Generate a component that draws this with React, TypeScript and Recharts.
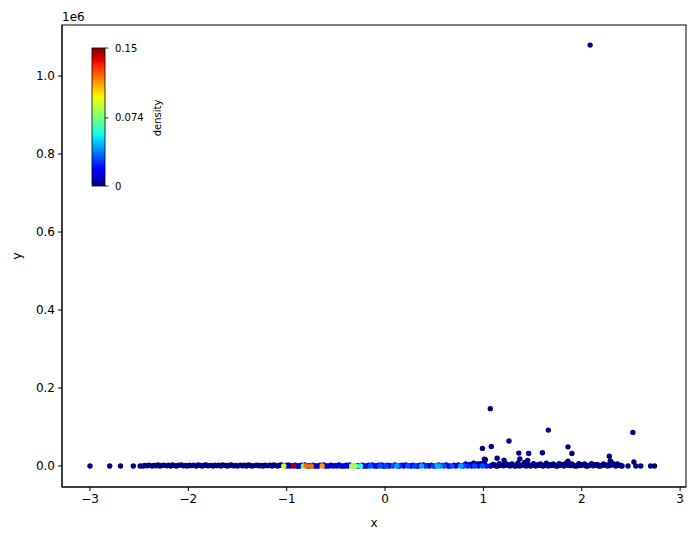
import { ScatterChart, Scatter, XAxis, YAxis } from "recharts";

const X_TICKS = [-3, -2, -1, 0, 1, 2, 3];
const Y_TICKS = [0, 200000, 400000, 600000, 800000, 1000000];
const CBAR_TICKS = [0, 0.074, 0.15];
const D_MAX = 0.15;

// [x, y, density]
const leftTail: number[][] = [
  [-3.0, 0, 0], [-2.8, 0, 0], [-2.69, 0, 0], [-2.56, 0, 0], [-2.49, 0, 0],
];

const leftStrip: number[][] = [
  [-2.46, 0, 0], [-2.44, 1200, 0], [-2.42, 300, 0], [-2.4, 2000, 0], [-2.37, 0, 0],
  [-2.35, 1500, 0], [-2.33, 600, 0], [-2.31, 2400, 0], [-2.29, 0, 0], [-2.27, 1000, 0],
  [-2.25, 2200, 0], [-2.22, 400, 0], [-2.2, 1800, 0], [-2.18, 0, 0], [-2.16, 2500, 0],
  [-2.14, 900, 0], [-2.12, 0, 0], [-2.1, 1600, 0], [-2.07, 2300, 0], [-2.05, 200, 0],
  [-2.03, 1300, 0], [-2.01, 0, 0], [-1.99, 2100, 0], [-1.97, 700, 0], [-1.95, 1900, 0],
  [-1.92, 0, 0], [-1.9, 2500, 0], [-1.88, 1100, 0], [-1.86, 0, 0], [-1.84, 1700, 0],
  [-1.82, 2400, 0], [-1.8, 500, 0], [-1.77, 1400, 0], [-1.75, 0, 0], [-1.73, 2200, 0],
  [-1.71, 800, 0], [-1.69, 1900, 0], [-1.67, 0, 0], [-1.65, 2500, 0], [-1.62, 1000, 0],
  [-1.6, 0, 0], [-1.58, 1600, 0], [-1.56, 2300, 0], [-1.54, 300, 0], [-1.52, 1200, 0],
  [-1.5, 0, 0], [-1.47, 2000, 0], [-1.45, 600, 0], [-1.43, 1800, 0], [-1.41, 0, 0],
  [-1.39, 2400, 0], [-1.37, 1100, 0], [-1.35, 0, 0], [-1.32, 1500, 0], [-1.3, 2200, 0],
  [-1.28, 400, 0], [-1.26, 1300, 0], [-1.24, 0, 0], [-1.22, 2100, 0], [-1.2, 700, 0],
  [-1.17, 1900, 0], [-1.15, 0, 0], [-1.13, 2500, 0], [-1.11, 900, 0], [-1.09, 0, 0],
  [-1.07, 1700, 0], [-1.05, 2300, 0.002],
];

const midFill: number[][] = [
  [-1.015, 1500, 0.006], [-0.985, 2400, 0.004], [-0.95, 500, 0.008], [-0.915, 2000, 0.006],
  [-0.885, 0, 0.004], [-0.85, 1800, 0.008], [-0.815, 2400, 0.006], [-0.765, 800, 0.005],
  [-0.735, 2200, 0.008], [-0.7, 0, 0.006], [-0.66, 1600, 0.01], [-0.625, 2500, 0.006],
  [-0.59, 0, 0.008], [-0.55, 2000, 0.01], [-0.51, 900, 0.006], [-0.47, 2300, 0.012],
  [-0.43, 0, 0.008], [-0.395, 1700, 0.01], [-0.36, 2400, 0.014], [-0.285, 600, 0.012],
  [-0.235, 2100, 0.01], [-0.2, 0, 0.014], [-0.165, 1900, 0.012], [-0.13, 2500, 0.016],
  [-0.095, 300, 0.012], [-0.065, 1800, 0.014], [-0.035, 2300, 0.012], [-0.005, 0, 0.016],
  [0.025, 2000, 0.014], [0.06, 800, 0.012], [0.1, 2400, 0.016], [0.135, 0, 0.014],
  [0.17, 1700, 0.012], [0.21, 2500, 0.014], [0.25, 500, 0.012], [0.285, 2200, 0.014],
  [0.32, 0, 0.012], [0.355, 1900, 0.016], [0.39, 2400, 0.012], [0.43, 700, 0.01],
  [0.47, 2100, 0.012], [0.51, 0, 0.014], [0.545, 2300, 0.012], [0.58, 1000, 0.014],
  [0.62, 2500, 0.01], [0.66, 0, 0.012], [0.7, 1800, 0.01], [0.745, 2400, 0.012],
  [0.785, 600, 0.01],
];

const midStrip: number[][] = [
  [-1.03, 0, 0.088], [-1.0, 0, 0.005], [-0.97, 0, 0.01], [-0.93, 0, 0.145],
  [-0.9, 0, 0.01], [-0.87, 0, 0.004], [-0.83, 0, 0.07], [-0.8, 0, 0.12],
  [-0.78, 0, 0.006], [-0.75, 0, 0.12], [-0.72, 0, 0.01], [-0.68, 0, 0.005],
  [-0.64, 0, 0.112], [-0.61, 0, 0.006], [-0.57, 0, 0.008], [-0.53, 0, 0.012],
  [-0.49, 0, 0.006], [-0.45, 0, 0.01], [-0.41, 0, 0.014], [-0.38, 0, 0.008],
  [-0.34, 0, 0.08], [-0.32, 0, 0.082], [-0.3, 0, 0.076], [-0.27, 0, 0.01],
  [-0.25, 0, 0.06], [-0.22, 0, 0.012], [-0.18, 0, 0.02], [-0.15, 0, 0.03],
  [-0.11, 0, 0.015], [-0.08, 0, 0.02], [-0.05, 0, 0.03], [-0.02, 0, 0.012],
  [0.01, 0, 0.028], [0.04, 0, 0.01], [0.08, 0, 0.03], [0.12, 0, 0.042],
  [0.15, 0, 0.025], [0.19, 0, 0.012], [0.23, 0, 0.03], [0.27, 0, 0.015],
  [0.3, 0, 0.028], [0.34, 0, 0.012], [0.37, 0, 0.043], [0.41, 0, 0.025],
  [0.45, 0, 0.01], [0.49, 0, 0.028], [0.53, 0, 0.045], [0.56, 0, 0.04],
  [0.6, 0, 0.03], [0.64, 0, 0.012], [0.68, 0, 0.03], [0.72, 0, 0.015],
  [0.77, 0, 0.042], [0.8, 0, 0.028], [0.82, 5000, 0.004], [0.84, 0, 0.025],
  [0.86, 4000, 0.004], [0.88, 0, 0.01], [0.9, 7000, 0.003], [0.91, 0, 0.028],
  [0.94, 5000, 0.003], [0.95, 0, 0.01], [0.97, 6000, 0.003], [0.99, 0, 0.03],
  [1.01, 8000, 0.002], [1.03, 0, 0.022], [1.07, 0, 0.008],
];

const rightStrip: number[][] = [
  [1.1, 4000, 0], [1.13, 0, 0], [1.16, 6000, 0], [1.19, 2000, 0], [1.22, 8000, 0],
  [1.25, 3000, 0], [1.29, 5000, 0], [1.32, 0, 0], [1.35, 7000, 0], [1.39, 2000, 0],
  [1.42, 9000, 0], [1.45, 4000, 0], [1.48, 0, 0], [1.51, 6000, 0], [1.55, 3000, 0],
  [1.58, 5000, 0], [1.61, 0, 0], [1.64, 7000, 0], [1.68, 3000, 0], [1.71, 5000, 0],
  [1.74, 0, 0], [1.77, 6000, 0], [1.8, 4000, 0], [1.84, 7000, 0], [1.87, 2000, 0],
  [1.9, 5000, 0], [1.93, 0, 0], [1.97, 6000, 0], [2.0, 3000, 0], [2.03, 5000, 0],
  [2.06, 0, 0], [2.1, 6000, 0], [2.13, 3000, 0], [2.16, 4000, 0], [2.19, 0, 0],
  [2.22, 5000, 0], [2.25, 2000, 0], [2.28, 4000, 0], [2.31, 8000, 0], [2.33, 3000, 0],
  [2.36, 5000, 0], [2.39, 2000, 0], [2.41, 0, 0],
];

const rightFill: number[][] = [
  [1.085, 1000, 0], [1.115, 2000, 0], [1.145, 0, 0], [1.175, 1500, 0], [1.205, 500, 0],
  [1.235, 2000, 0], [1.27, 0, 0], [1.305, 1800, 0], [1.335, 600, 0], [1.37, 0, 0],
  [1.405, 2200, 0], [1.435, 0, 0], [1.465, 1400, 0], [1.495, 2500, 0], [1.53, 0, 0],
  [1.565, 1700, 0], [1.595, 800, 0], [1.625, 2300, 0], [1.66, 0, 0], [1.695, 1200, 0],
  [1.725, 2000, 0], [1.755, 0, 0], [1.785, 1600, 0], [1.82, 0, 0], [1.855, 2400, 0],
  [1.885, 700, 0], [1.915, 1900, 0], [1.95, 0, 0], [1.985, 1300, 0], [2.015, 2200, 0],
  [2.045, 0, 0], [2.08, 1700, 0], [2.115, 500, 0], [2.145, 2100, 0], [2.175, 0, 0],
  [2.205, 1500, 0], [2.235, 2400, 0], [2.265, 0, 0], [2.295, 1800, 0], [2.345, 0, 0],
  [2.375, 1400, 0], [2.4, 600, 0],
];

const rightTail: number[][] = [
  [2.47, 0, 0], [2.53, 10000, 0], [2.55, 0, 0], [2.6, 0, 0], [2.7, 0, 0], [2.74, 0, 0],
];

const outliers: number[][] = [
  [2.085, 1079500, 0], [1.07, 147000, 0], [0.99, 45000, 0], [1.08, 50000, 0],
  [1.26, 64000, 0], [1.66, 92000, 0], [2.52, 86000, 0], [1.36, 33000, 0],
  [1.46, 32000, 0], [1.6, 34000, 0], [1.86, 49000, 0], [1.9, 32000, 0],
  [2.28, 25000, 0], [1.01, 17000, 0], [1.02, 16000, 0], [1.14, 20000, 0],
  [1.21, 15000, 0], [1.37, 18000, 0], [1.45, 14000, 0], [1.86, 12000, 0],
  [2.29, 13000, 0],
];

const points = [
  ...leftTail, ...leftStrip, ...midFill, ...midStrip,
  ...rightStrip, ...rightFill, ...rightTail, ...outliers,
]
  .map(([x, y, d]) => ({ x, y, d }))
  .sort((a, b) => a.d - b.d);

// matplotlib jet
const JET = {
  r: [[0, 0], [0.35, 0], [0.66, 1], [0.89, 1], [1, 0.5]],
  g: [[0, 0], [0.125, 0], [0.375, 1], [0.64, 1], [0.91, 0], [1, 0]],
  b: [[0, 0.5], [0.11, 1], [0.34, 1], [0.65, 0], [1, 0]],
};
function seg(pts: number[][], t: number) {
  for (let i = 1; i < pts.length; i++) {
    if (t <= pts[i][0]) {
      const [x0, y0] = pts[i - 1];
      const [x1, y1] = pts[i];
      return y0 + ((t - x0) / (x1 - x0)) * (y1 - y0);
    }
  }
  return pts[pts.length - 1][1];
}
function jet(t: number) {
  const c = Math.max(0, Math.min(1, t));
  const r = Math.round(seg(JET.r, c) * 255);
  const g = Math.round(seg(JET.g, c) * 255);
  const b = Math.round(seg(JET.b, c) * 255);
  return `rgb(${r},${g},${b})`;
}

const FONT = "DejaVu Sans, sans-serif";
const GRAD_STOPS = [0, 0.11, 0.125, 0.2, 0.34, 0.35, 0.375, 0.5, 0.64, 0.65, 0.66, 0.75, 0.89, 0.91, 1];

const fmtX = (v: number) => (v < 0 ? `\u2212${Math.abs(v)}` : String(v));
const fmtY = (v: number) => (v / 1e6).toFixed(1);

function Dot(props: any) {
  const { cx, cy, payload } = props;
  if (cx == null || cy == null) return null;
  return <circle cx={cx} cy={cy} r={2.7} fill={jet(payload.d / D_MAX)} />;
}

export default function App() {
  const cbTop = 48;
  const cbBot = 186;
  const cbLeft = 92;
  const cbRight = 105;
  return (
    <div style={{ position: "absolute", left: 0, top: 0, width: 694, height: 540, background: "#fff" }}>
      <ScatterChart width={694} height={540} margin={{ top: 25, right: 8, bottom: 0, left: 0 }}>
        <XAxis
          dataKey="x"
          type="number"
          domain={[-3.285, 3.06]}
          ticks={X_TICKS}
          tickFormatter={fmtX}
          height={53}
          allowDataOverflow
          stroke="#000"
          tickSize={4}
          tickMargin={3}
          tick={{ fill: "#000", fontSize: 12, fontFamily: FONT }}
        />
        <YAxis
          dataKey="y"
          type="number"
          domain={[-54000, 1131000]}
          ticks={Y_TICKS}
          tickFormatter={fmtY}
          width={62}
          allowDataOverflow
          stroke="#000"
          tickSize={4}
          tickMargin={3}
          tick={{ fill: "#000", fontSize: 12, fontFamily: FONT }}
        />
        <Scatter data={points} shape={<Dot />} isAnimationActive={false} />
      </ScatterChart>
      <svg
        width={694}
        height={540}
        style={{ position: "absolute", left: 0, top: 0, pointerEvents: "none" }}
        fontFamily={FONT}
      >
        <defs>
          <linearGradient id="jet-grad" x1="0" y1="1" x2="0" y2="0">
            {GRAD_STOPS.map((s) => (
              <stop key={s} offset={s} stopColor={jet(s)} />
            ))}
          </linearGradient>
        </defs>
        <rect x={62} y={25} width={624} height={462} fill="none" stroke="#000" strokeWidth={1} />
        <rect x={cbLeft} y={cbTop} width={cbRight - cbLeft} height={cbBot - cbTop} fill="url(#jet-grad)" stroke="#000" strokeWidth={0.8} />
        {CBAR_TICKS.map((t) => {
          const y = cbBot - (t / D_MAX) * (cbBot - cbTop);
          return (
            <g key={t}>
              <line x1={cbRight} x2={cbRight + 3.5} y1={y} y2={y} stroke="#000" strokeWidth={0.8} />
              <text x={cbRight + 10} y={y} fontSize={10} dominantBaseline="central" fill="#000">
                {String(t)}
              </text>
            </g>
          );
        })}
        <text x={157} y={118} fontSize={10} textAnchor="middle" transform="rotate(-90 157 118)" dominantBaseline="central" fill="#000">
          density
        </text>
        <text x={62} y={21} fontSize={12} fill="#000">1e6</text>
        <text x={374} y={527} fontSize={12} textAnchor="middle" fill="#000">x</text>
        <text x={17} y={256} fontSize={12} textAnchor="middle" transform="rotate(-90 17 256)" dominantBaseline="central" fill="#000">y</text>
      </svg>
    </div>
  );
}
